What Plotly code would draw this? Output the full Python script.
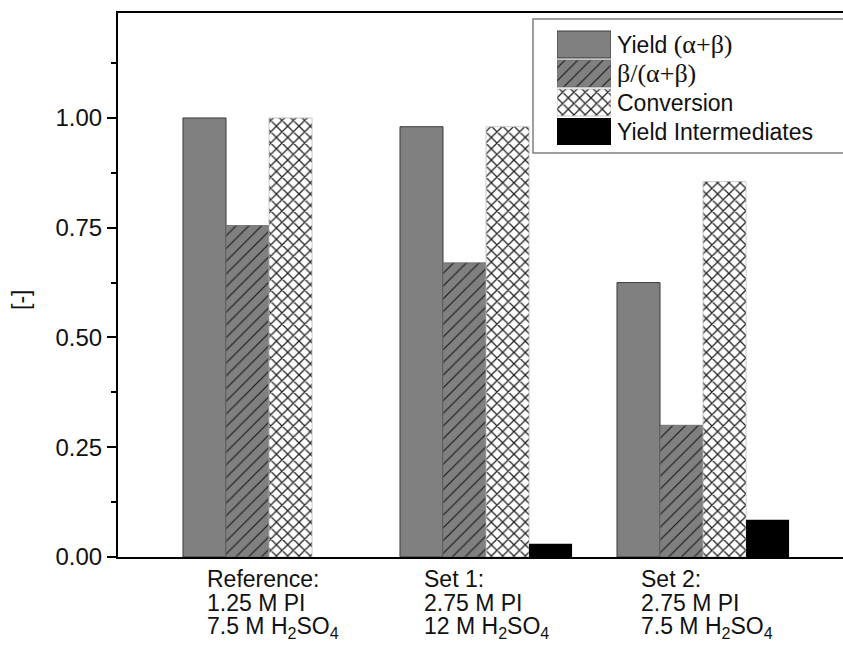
import plotly.graph_objects as go

# ---------------- data ----------------
categories = [0, 1, 2]
cat_lines = [
    ["Reference:", "1.25 M PI", "7.5 M H<sub>2</sub>SO<sub>4</sub>"],
    ["Set 1:", "2.75 M PI", "12 M H<sub>2</sub>SO<sub>4</sub>"],
    ["Set 2:", "2.75 M PI", "7.5 M H<sub>2</sub>SO<sub>4</sub>"],
]
yield_ab = [1.00, 0.98, 0.625]
beta_ratio = [0.755, 0.67, 0.30]
conversion = [1.00, 0.98, 0.855]
yield_inter = [0.0, 0.03, 0.085]

series_names = [
    "Yield <span style=\"font-family:'Liberation Serif', serif; font-size:26px\">(α+β)</span>",
    "<span style=\"font-family:'Liberation Serif', serif; font-size:26px\">β/(α+β)</span>",
    "Conversion",
    "Yield Intermediates",
]
y_ticks = [0.0, 0.25, 0.5, 0.75, 1.0]
y_ticklabels = ["0.00", "0.25", "0.50", "0.75", "1.00"]

# ---------------- styles ----------------
FONT = "Arial, Liberation Sans, sans-serif"
markers = [
    dict(color="#808080", line=dict(color="#3a3a3a", width=1)),
    dict(color="#808080", line=dict(color="#6a6a6a", width=0.8),
         pattern=dict(shape="/", fgcolor="#1a1a1a", bgcolor="#808080",
                      size=9, solidity=0.13, fillmode="replace")),
    dict(color="white", line=dict(color="#bbbbbb", width=0.8),
         pattern=dict(shape="x", fgcolor="#222222", bgcolor="white",
                      size=8, solidity=0.3, fillmode="replace")),
    dict(color="black", line=dict(color="black", width=0)),
]
values = [yield_ab, beta_ratio, conversion, yield_inter]

W, H = 843, 645
L, R, T, B = 118, 0, 13, 88
pw, ph = W - L - R, H - T - B


def px_x(px):
    return (px - L) / pw


def px_y(py):
    return (H - B - py) / ph


fig = go.Figure()
for vals, mk, nm in zip(values, markers, series_names):
    fig.add_trace(go.Bar(x=categories, y=vals, marker=mk, name=nm,
                         showlegend=False, xaxis="x", yaxis="y"))

# legend swatches drawn as bars on a small auxiliary axis
for i, mk in enumerate(markers):
    fig.add_trace(go.Bar(x=[1], y=[i], orientation="h", width=0.93,
                         offsetgroup="leg", marker=mk, showlegend=False,
                         xaxis="x2", yaxis="y2", hoverinfo="skip"))

annotations = []
# legend labels
for i, nm in enumerate(series_names):
    annotations.append(dict(text=nm, xref="paper", yref="y2", x=px_x(615), y=i,
                            xanchor="left", yanchor="middle", showarrow=False,
                            font=dict(family=FONT, size=23, color="#111")))
# category labels (left aligned, three lines)
line_y = [579, 603, 627]
for c, lines in zip(categories, cat_lines):
    for ly, txt in zip(line_y, lines):
        annotations.append(dict(text=txt, xref="x", yref="paper", x=c, xshift=-64,
                                y=px_y(ly), xanchor="left", yanchor="middle",
                                showarrow=False,
                                font=dict(family=FONT, size=23, color="#111")))
# y-axis title
annotations.append(dict(text="[-]", xref="paper", yref="paper", x=px_x(21), y=px_y(300),
                        xanchor="center", yanchor="middle", textangle=-90, showarrow=False,
                        font=dict(family=FONT, size=23, color="#111")))

fig.update_layout(
    width=W, height=H,
    margin=dict(l=L, r=R, t=T, b=B),
    paper_bgcolor="white", plot_bgcolor="white",
    barmode="group", bargap=0.207, bargroupgap=0,
    font=dict(family=FONT, color="#111"),
    xaxis=dict(range=[-0.696, 2.645], showticklabels=False, ticks="",
               showgrid=False, zeroline=False, showline=True, linecolor="black",
               linewidth=2, mirror=True, domain=[0, 1]),
    yaxis=dict(range=[0, 1.239], tickvals=y_ticks, ticktext=y_ticklabels,
               ticks="outside", ticklen=9, tickwidth=2, tickcolor="black",
               showgrid=False, zeroline=False, showline=True, linecolor="black",
               linewidth=2, mirror=False,
               tickfont=dict(family=FONT, size=24, color="#111"),
               minor=dict(dtick=0.125, tick0=0, ticks="outside", ticklen=5,
                          tickwidth=2, tickcolor="black", showgrid=False)),
    xaxis2=dict(domain=[px_x(557), px_x(611)], range=[0, 1], anchor="y2",
                visible=False, fixedrange=True),
    yaxis2=dict(domain=[px_y(146), px_y(30)], range=[3.5, -0.5], anchor="x2",
                visible=False, fixedrange=True),
    shapes=[dict(type="rect", xref="paper", yref="paper",
                 x0=px_x(533), x1=1.02, y0=px_y(153), y1=px_y(19),
                 line=dict(color="#808080", width=1.5), fillcolor="white",
                 layer="below")],
    annotations=annotations,
)

fig.write_html("out.html")
